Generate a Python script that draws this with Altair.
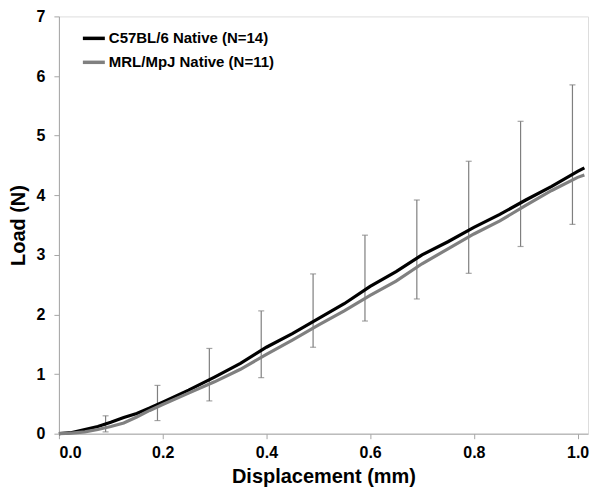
import altair as alt
import pandas as pd

# Mean curves
x_black = [0, 0.025, 0.05, 0.075, 0.1, 0.125, 0.15, 0.175, 0.2, 0.25, 0.3, 0.35, 0.4, 0.45, 0.5,
           0.55, 0.6, 0.65, 0.7, 0.75, 0.8, 0.85, 0.9, 0.95, 1.0, 1.013]
y_black = [0, 0.02, 0.07, 0.12, 0.19, 0.27, 0.34, 0.43, 0.53, 0.73, 0.95, 1.18, 1.45, 1.68, 1.93,
           2.18, 2.47, 2.72, 3.0, 3.22, 3.46, 3.68, 3.92, 4.15, 4.4, 4.46]
x_gray = x_black
y_gray = [0, 0.01, 0.03, 0.07, 0.12, 0.18, 0.28, 0.39, 0.49, 0.68, 0.87, 1.08, 1.33, 1.57, 1.82,
          2.06, 2.32, 2.56, 2.85, 3.1, 3.35, 3.57, 3.83, 4.08, 4.3, 4.34]

series_names = ["C57BL/6 Native (N=14)", "MRL/MpJ Native (N=11)"]

# Error bars
err_x = [0.09, 0.19, 0.29, 0.39, 0.49, 0.59, 0.69, 0.79, 0.89, 0.99]
err_hi = [0.30, 0.81, 1.43, 2.06, 2.68, 3.33, 3.92, 4.57, 5.24, 5.85]
err_lo = [0.03, 0.22, 0.55, 0.94, 1.45, 1.89, 2.26, 2.69, 3.14, 3.51]

lines = pd.DataFrame(
    [{"x": a, "y": b, "series": series_names[0], "o": i} for i, (a, b) in enumerate(zip(x_black, y_black))]
    + [{"x": a, "y": b, "series": series_names[1], "o": i} for i, (a, b) in enumerate(zip(x_gray, y_gray))]
)
errs = pd.DataFrame({"x": err_x, "lo": err_lo, "hi": err_hi})

FONT = "Liberation Sans"
AX = "#a6a6a6"

xscale = alt.Scale(domain=[0, 1.02], nice=False)
yscale = alt.Scale(domain=[0, 7], nice=False)

xaxis = alt.Axis(title="Displacement (mm)", values=[0, 0.2, 0.4, 0.6, 0.8, 1.0], format=".1f",
                 grid=False, domainColor=AX, tickColor=AX, tickSize=5,
                 labelFont=FONT, labelFontSize=16, labelFontWeight="bold", labelColor="black",
                 labelPadding=6, titleFont=FONT, titleFontSize=20, titleFontWeight="bold",
                 titleColor="black", titlePadding=6)
yaxis = alt.Axis(title="Load (N)", values=list(range(8)), format="d",
                 grid=False, domainColor=AX, tickColor=AX, tickSize=5,
                 labelFont=FONT, labelFontSize=16, labelFontWeight="bold", labelColor="black",
                 labelPadding=9, titleFont=FONT, titleFontSize=20, titleFontWeight="bold",
                 titleColor="black", titlePadding=8)

bars = alt.Chart(errs).mark_rule(color="#7f7f7f", strokeWidth=1.2).encode(
    x=alt.X("x:Q", scale=xscale, axis=xaxis),
    y=alt.Y("lo:Q", scale=yscale, axis=yaxis),
    y2="hi:Q",
)
caps_hi = alt.Chart(errs).mark_tick(color="#7f7f7f", orient="horizontal", size=6, thickness=1.2).encode(
    x=alt.X("x:Q", scale=xscale), y=alt.Y("hi:Q", scale=yscale)
)
caps_lo = alt.Chart(errs).mark_tick(color="#7f7f7f", orient="horizontal", size=6, thickness=1.2).encode(
    x=alt.X("x:Q", scale=xscale), y=alt.Y("lo:Q", scale=yscale)
)

line = alt.Chart(lines).mark_line(strokeWidth=3.2).encode(
    x=alt.X("x:Q", scale=xscale),
    y=alt.Y("y:Q", scale=yscale),
    order="o:Q",
    color=alt.Color("series:N", scale=alt.Scale(domain=series_names, range=["#000000", "#808080"]),
                    legend=alt.Legend(title=None, orient="none", legendX=22, legendY=9,
                                      symbolType="stroke", symbolSize=484, symbolStrokeWidth=3.5,
                                      labelFont=FONT, labelFontSize=15, labelFontWeight="bold",
                                      labelColor="black", labelOffset=2, rowPadding=3,
                                      labelLimit=400)),
)

chart = alt.layer(bars, caps_hi, caps_lo, line).properties(
    width=530, height=418, padding={"left": 0, "top": 0, "right": 5, "bottom": 5}
).configure_view(stroke=None).configure(background="white")

chart.save("out.html", embed_options={"renderer": "svg", "actions": False})
